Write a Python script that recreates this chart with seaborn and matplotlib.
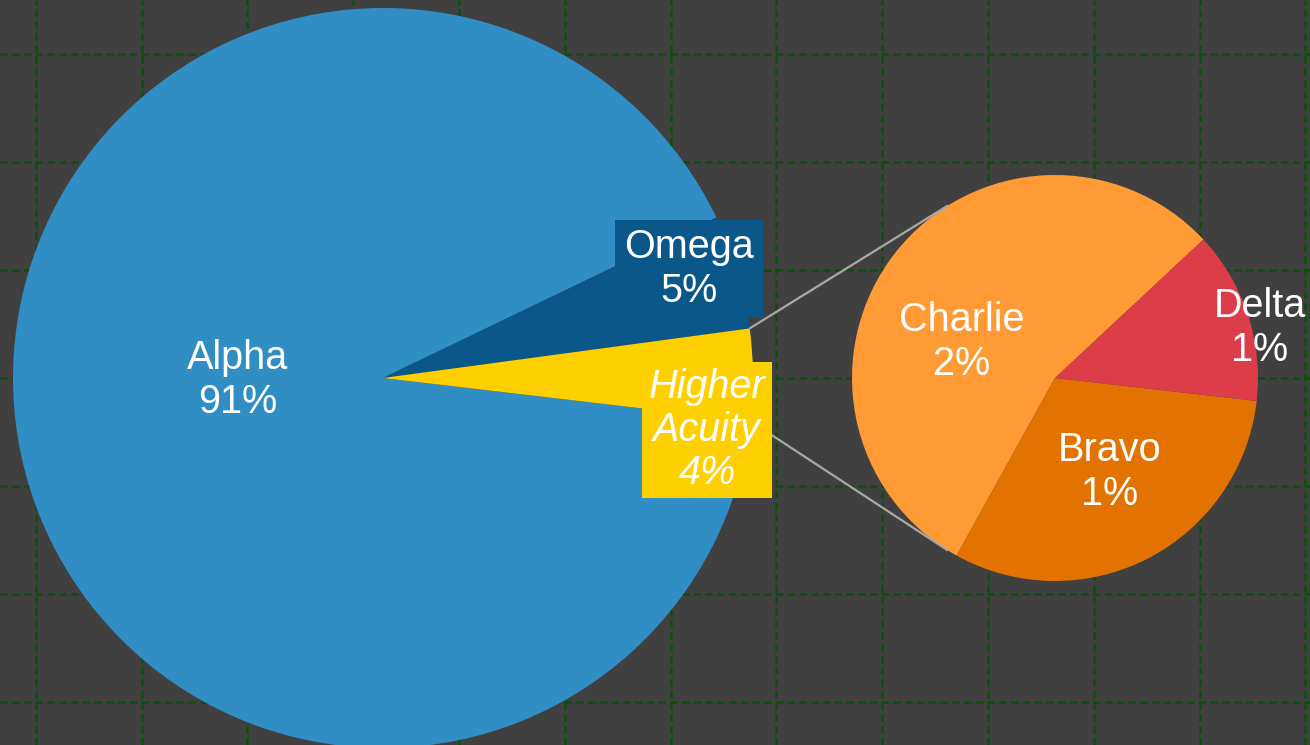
import numpy as np
import matplotlib
matplotlib.use("Agg")
import matplotlib.pyplot as plt
import seaborn as sns

# ---- data ----
main_labels = ["Alpha", "Omega", "Higher Acuity"]
main_values = [91, 5, 4]
main_colors = ["#318ec5", "#0a5789", "#ffd000"]

sub_labels = ["Charlie", "Bravo", "Delta"]
sub_values = [2.2, 1.25, 0.55]
sub_colors = ["#ff9a35", "#e37300", "#dc3d49"]
sub_pct_text = ["2%", "1%", "1%"]
main_pct_text = ["91%", "5%", "4%"]

W, H = 1310, 745
BG = "#404040"
GRID = "#0a4f0c"
DASH = (0, (3.0, 1.7))

sns.set_theme(style="darkgrid", rc={
    "axes.facecolor": BG, "figure.facecolor": BG,
    "grid.color": GRID, "grid.linestyle": DASH, "grid.linewidth": 1.8,
})
plt.rcParams["font.family"] = ["Liberation Sans", "DejaVu Sans"]

fig = plt.figure(figsize=(W / 100, H / 100), dpi=100)
ax = fig.add_axes([0, 0, 1, 1])


def px(x, y):
    return (x, H - y)


big_c = px(383, 378)
big_r = 370
small_c = px(1055, 378)
small_r = 203

wedges, _ = ax.pie(main_values, colors=main_colors, startangle=-6.7,
                   counterclock=False, center=big_c, radius=big_r,
                   frame=True, wedgeprops=dict(linewidth=0))
sw, _ = ax.pie(sub_values, colors=sub_colors, startangle=43,
               counterclock=True, center=small_c, radius=small_r,
               frame=True, wedgeprops=dict(linewidth=0))

# connector lines from the Higher Acuity wedge to the breakdown pie
yw = wedges[2]
for ang_big, ang_small in [(yw.theta2, 122), (yw.theta1, -122)]:
    a = np.deg2rad(ang_big)
    b = np.deg2rad(ang_small)
    x0 = big_c[0] + big_r * np.cos(a)
    y0 = big_c[1] + big_r * np.sin(a)
    x1 = small_c[0] + small_r * np.cos(b)
    y1 = small_c[1] + small_r * np.sin(b)
    ax.plot([x0, x1], [y0, y1], color="#a8a8a8", lw=1.6, zorder=3)

fs = 28.5
ls = 1.17
ax.text(*px(238, 380), f"{main_labels[0]}\n{main_pct_text[0]}", color="white",
        fontsize=fs, ha="center", va="center", zorder=5, linespacing=ls)
ax.text(*px(689, 269), f"{main_labels[1]}\n{main_pct_text[1]}", color="white",
        fontsize=fs, ha="center", va="center", zorder=5, linespacing=ls,
        bbox=dict(boxstyle="square,pad=0.22", fc=main_colors[1], ec="none"))
ax.text(*px(707, 430), "Higher\nAcuity\n" + main_pct_text[2], color="white",
        fontsize=fs, ha="center", va="center", zorder=5, style="italic",
        linespacing=ls,
        bbox=dict(boxstyle="square,pad=0.16", fc=main_colors[2], ec="none"))

ax.text(*px(962, 342), f"{sub_labels[0]}\n{sub_pct_text[0]}", color="white",
        fontsize=fs, ha="center", va="center", zorder=5, linespacing=ls)
ax.text(*px(1110, 472), f"{sub_labels[1]}\n{sub_pct_text[1]}", color="white",
        fontsize=fs, ha="center", va="center", zorder=5, linespacing=ls)
ax.text(*px(1260, 328), f"{sub_labels[2]}\n{sub_pct_text[2]}", color="white",
        fontsize=fs, ha="center", va="center", zorder=5, linespacing=ls)

# grid
xt = [35.7 + k * 105.8 for k in range(13)]
yt = [H - (54.3 + k * 108) for k in range(7)]
ax.set_xticks(xt)
ax.set_yticks(yt)
ax.tick_params(length=0, labelbottom=False, labelleft=False)
ax.grid(True, color=GRID, linestyle=DASH, linewidth=1.8)
ax.set_axisbelow(True)
for s in ax.spines.values():
    s.set_visible(False)
ax.set_xlim(0, W)
ax.set_ylim(0, H)
ax.set_aspect("equal", adjustable="box")

fig.savefig("out.png", dpi=100, facecolor=BG)
